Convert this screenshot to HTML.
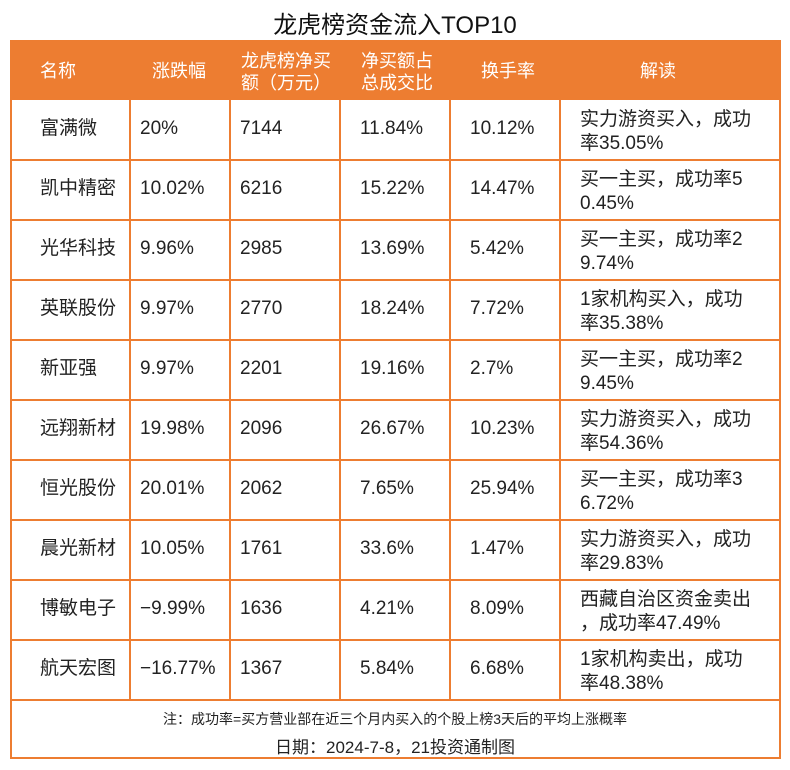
<!DOCTYPE html>
<html><head><meta charset="utf-8"><style>
body{margin:0;width:790px;height:770px;background:#fff;font-family:"Liberation Sans","Noto Sans CJK SC",sans-serif;color:#222;position:relative;overflow:hidden}
.t{position:absolute;white-space:nowrap}
.title{left:0;width:790px;text-align:center;top:5px;font-size:24px;color:#111}
.hd{position:absolute;left:10px;top:40px;width:770px;height:60px;background:#ED7D31}
.h{position:absolute;color:#fff;font-size:18px;line-height:22px}
.box{position:absolute;left:10px;top:40px;width:767px;height:717px;border:2px solid #ED7D31;border-top:none}
.vl{position:absolute;top:100px;height:600px;width:2px;background:#ED7D31}
.hl{position:absolute;left:10px;width:770px;height:2px;background:#ED7D31}
.c{position:absolute;font-size:19px;line-height:24px;color:#222}
</style></head><body>
<div class="t title">龙虎榜资金流入TOP10</div>
<div class="hd"></div>
<div class="box"></div>
<div class="h" style="left:40px;top:60px">名称</div>
<div class="h" style="left:152px;top:60px">涨跌幅</div>
<div class="h" style="left:241px;top:50px">龙虎榜净买<br>额（万元）</div>
<div class="h" style="left:361px;top:50px">净买额占<br>总成交比</div>
<div class="h" style="left:481px;top:60px">换手率</div>
<div class="h" style="left:640px;top:60px">解读</div>
<div class="vl" style="left:129px"></div>
<div class="vl" style="left:229px"></div>
<div class="vl" style="left:339px"></div>
<div class="vl" style="left:449px"></div>
<div class="vl" style="left:559px"></div>
<div class="hl" style="top:159px"></div>
<div class="hl" style="top:219px"></div>
<div class="hl" style="top:279px"></div>
<div class="hl" style="top:339px"></div>
<div class="hl" style="top:399px"></div>
<div class="hl" style="top:459px"></div>
<div class="hl" style="top:519px"></div>
<div class="hl" style="top:579px"></div>
<div class="hl" style="top:639px"></div>
<div class="hl" style="top:699px"></div>
<div id="rows"></div>
<div class="t" style="left:0;width:790px;text-align:center;top:709px;font-size:14px;color:#222">注：成功率=买方营业部在近三个月内买入的个股上榜3天后的平均上涨概率</div>
<div class="t" style="left:0;width:790px;text-align:center;top:733px;font-size:17px;color:#222">日期：2024-7-8，21投资通制图</div>
<script>
var d=[["富满微","20%","7144","11.84%","10.12%","实力游资买入，成功<br>率35.05%"],
["凯中精密","10.02%","6216","15.22%","14.47%","买一主买，成功率5<br>0.45%"],
["光华科技","9.96%","2985","13.69%","5.42%","买一主买，成功率2<br>9.74%"],
["英联股份","9.97%","2770","18.24%","7.72%","1家机构买入，成功<br>率35.38%"],
["新亚强","9.97%","2201","19.16%","2.7%","买一主买，成功率2<br>9.45%"],
["远翔新材","19.98%","2096","26.67%","10.23%","实力游资买入，成功<br>率54.36%"],
["恒光股份","20.01%","2062","7.65%","25.94%","买一主买，成功率3<br>6.72%"],
["晨光新材","10.05%","1761","33.6%","1.47%","实力游资买入，成功<br>率29.83%"],
["博敏电子","−9.99%","1636","4.21%","8.09%","西藏自治区资金卖出<br>，成功率47.49%"],
["航天宏图","−16.77%","1367","5.84%","6.68%","1家机构卖出，成功<br>率48.38%"]];
var xs=[40,140,240,360,470,580],h="";
d.forEach(function(r,i){var y=100+i*60;
for(var j=0;j<6;j++){h+='<div class="c" style="left:'+xs[j]+'px;top:'+(j==5?y+8:y+17)+'px">'+r[j]+'</div>';}});
document.getElementById("rows").innerHTML=h;
</script>
</body></html>
